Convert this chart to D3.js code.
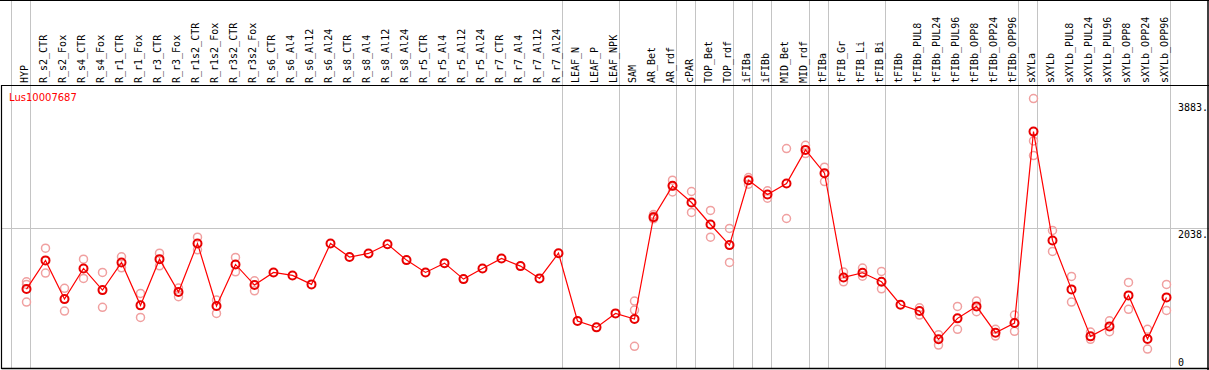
<!DOCTYPE html>
<html>
<head>
<meta charset="utf-8">
<title>Lus10007687</title>
<script src="https://cdn.jsdelivr.net/npm/d3@7"></script>
<style>
  body { margin: 0; background: #fff; }
  svg { display: block; }
  .col text { font: 10px "DejaVu Sans Mono", monospace; fill: #000; }
  .yax text { font: 10px "DejaVu Sans Mono", monospace; fill: #000; }
  .title { font: 10px "DejaVu Sans", sans-serif; fill: #f00; }
</style>
</head>
<body>
<script>
// sample names, in display order
var samples = ["HYP",
  "R_s2_CTR","R_s2_Fox","R_s4_CTR","R_s4_Fox","R_r1_CTR","R_r1_Fox","R_r3_CTR","R_r3_Fox",
  "R_r1s2_CTR","R_r1s2_Fox","R_r3s2_CTR","R_r3s2_Fox",
  "R_s6_CTR","R_s6_Al4","R_s6_Al12","R_s6_Al24","R_s8_CTR","R_s8_Al4","R_s8_Al12","R_s8_Al24",
  "R_r5_CTR","R_r5_Al4","R_r5_Al12","R_r5_Al24","R_r7_CTR","R_r7_Al4","R_r7_Al12","R_r7_Al24",
  "LEAF_N","LEAF_P","LEAF_NPK",
  "SAM","AR_Bet","AR_rdf",
  "cPAR","TOP_Bet","TOP_rdf",
  "iFIBa","iFIBb","MID_Bet","MID_rdf",
  "tFIBa","tFIB_Gr","tFIB_Li","tFIB_Bi",
  "tFIBb","tFIBb_PUL8","tFIBb_PUL24","tFIBb_PUL96","tFIBb_OPP8","tFIBb_OPP24","tFIBb_OPP96",
  "sXYLa",
  "sXYLb","sXYLb_PUL8","sXYLb_PUL24","sXYLb_PUL96","sXYLb_OPP8","sXYLb_OPP24","sXYLb_OPP96"];

// how many samples are in each block between the grey separators
var groupSizes = [1, 28, 3, 3, 1, 2, 1, 1, 2, 1, 3, 7, 1, 7];

// mean expression per sample
var means = [1148,
  1565,1002,1448,1133,1535,911,1583,1104,
  1811,901,1506,1206,
  1390,1346,1216,1811,1613,1666,1801,1569,
  1390,1525,1293,1448,1593,1482,1303,1670,
  683,591,794,
  712,2194,2649,
  2407,2087,1787,
  2731,2523,2683,3172,
  2833,1317,1385,1254,
  920,828,417,722,896,513,654,
  3438,
  1855,1143,460,605,1056,421,1027];

// replicate values per sample
var replicates = [[1254,1216,959],
  [1743,1380],[1158,828],[1583,1303],[1390,882],[1617,1457],[1085,736],[1670,1486],[1162,1036],
  [1903,1719],[988,794],[1608,1399],[1268,1123],
  [],[],[],[],[],[],[],[],
  [],[],[],[],[],[],[],[],
  [],[],[],
  [973,842,315],[2232,2169,2208],[2731,2561,2650],
  [2567,2262],[2291,1903],[2029,1535],
  [2770,2673],[2576,2469],[3191,2174],[3239,3119],
  [2920,2712],[1395,1254],[1453,1336],[1404,1152],
  [],[876,770],[484,334],[896,562],[973,818],[562,465],[770,533],
  [3918,3302,3090],
  [2000,1695],[1332,959],[523,417],[687,527],[1245,853],[562,276],[1216,838]];

var yTicks = [3883, 2038, 0];
var yTickLabels = ["3883.", "2038.", "0"];
var geneName = "Lus10007687";

var W = 1209, H = 370;
var plotTop = 85, plotBottom = 368;

var svg = d3.select("body").append("svg")
  .attr("width", W)
  .attr("height", H);

var x = d3.scaleBand()
  .domain(samples)
  .range([11.5, 11.5 + samples.length * 19]);

var y = d3.scaleLinear()
  .domain([0, 3883])
  .range([plotBottom, 101]);

// grey horizontal line at the middle tick
svg.append("line")
  .attr("x1", 1.5).attr("x2", W)
  .attr("y1", Math.round(y(2038)) + 0.5).attr("y2", Math.round(y(2038)) + 0.5)
  .attr("stroke", "#c4c4c4");

// grey separators between sample blocks
var bounds = [0];
groupSizes.forEach(function(n) { bounds.push(bounds[bounds.length - 1] + n); });
svg.selectAll(".sep")
  .data(bounds)
  .enter().append("line")
  .attr("class", "sep")
  .attr("x1", function(k) { return Math.floor(x.range()[0] + k * x.bandwidth()) + 0.5; })
  .attr("x2", function(k) { return Math.floor(x.range()[0] + k * x.bandwidth()) + 0.5; })
  .attr("y1", 0).attr("y2", plotBottom)
  .attr("stroke", "#c4c4c4");

// frame
svg.append("line").attr("x1", 0).attr("x2", W).attr("y1", 0.5).attr("y2", 0.5).attr("stroke", "#000");
svg.append("line").attr("x1", 1.5).attr("x2", W).attr("y1", plotTop + 0.5).attr("y2", plotTop + 0.5).attr("stroke", "#000").attr("stroke-width", 1.2);
svg.append("line").attr("x1", 1.5).attr("x2", W).attr("y1", plotBottom + 0.5).attr("y2", plotBottom + 0.5).attr("stroke", "#000").attr("stroke-width", 1.5);
svg.append("line").attr("x1", 1.5).attr("x2", 1.5).attr("y1", plotTop).attr("y2", plotBottom + 1).attr("stroke", "#000").attr("stroke-width", 1.2);
svg.append("line").attr("x1", W - 1).attr("x2", W - 1).attr("y1", 0).attr("y2", H).attr("stroke", "#000").attr("stroke-width", 1.5);

// rotated sample labels
svg.append("g").attr("class", "col")
  .selectAll("text")
  .data(samples)
  .enter().append("text")
  .attr("transform", function(d) {
    return "translate(" + (x(d) + 16.5) + "," + 83 + ") rotate(-90)";
  })
  .text(function(d) { return d; });

// gene name
svg.append("text")
  .attr("class", "title")
  .attr("x", 9).attr("y", 100.5)
  .text(geneName);

// y labels on the right
var yAxis = svg.append("g")
  .attr("class", "yax")
  .attr("transform", "translate(1178,0)")
  .call(d3.axisRight(y)
    .tickValues(yTicks)
    .tickSize(0)
    .tickPadding(0)
    .tickFormat(function(d, i) { return yTickLabels[i]; }));
yAxis.select(".domain").remove();
yAxis.selectAll(".tick text")
  .attr("x", 0)
  .attr("dy", function(d) { return d === 0 ? "-0.25em" : "0.95em"; })
  .attr("text-anchor", "start");

var px = function(i) { return x(samples[i]) + 15; };

// replicate circles
var repPts = [];
replicates.forEach(function(r, i) {
  r.forEach(function(v) { repPts.push({ i: i, v: v }); });
});
svg.append("g").selectAll("circle")
  .data(repPts)
  .enter().append("circle")
  .attr("cx", function(d) { return px(d.i); })
  .attr("cy", function(d) { return y(d.v); })
  .attr("r", 4)
  .attr("fill", "none")
  .attr("stroke", "#f0a0a0")
  .attr("stroke-width", 1.5);

// mean line
var line = d3.line()
  .x(function(d, i) { return px(i); })
  .y(function(d) { return y(d); });
svg.append("path")
  .attr("d", line(means))
  .attr("fill", "none")
  .attr("stroke", "#f00")
  .attr("stroke-width", 1.2);

// mean markers
svg.append("g").selectAll("circle")
  .data(means)
  .enter().append("circle")
  .attr("cx", function(d, i) { return px(i); })
  .attr("cy", function(d) { return y(d); })
  .attr("r", 4)
  .attr("fill", "none")
  .attr("stroke", "#e80000")
  .attr("stroke-width", 2);
</script>
</body>
</html>
